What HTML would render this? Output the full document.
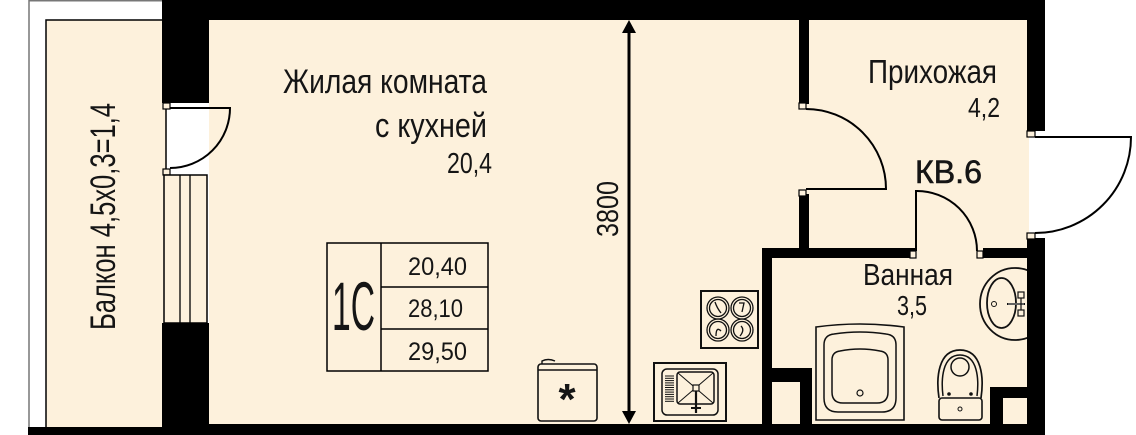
<!DOCTYPE html>
<html><head><meta charset="utf-8">
<style>
html,body{margin:0;padding:0;background:#fff;}
svg{display:block;}
text{font-family:"Liberation Sans","DejaVu Sans",sans-serif;fill:#151515;}
</style></head>
<body>
<svg width="1136" height="435" viewBox="0 0 1136 435" xmlns="http://www.w3.org/2000/svg">
<defs>
<clipPath id="inside"><rect x="209" y="20" width="818" height="405"/></clipPath>
</defs>
<rect x="0" y="0" width="1136" height="435" fill="#fff"/>
<!-- outer gray lines -->
<line x1="29" y1="0.7" x2="170" y2="0.7" stroke="#777" stroke-width="1.5"/>
<line x1="29" y1="0" x2="29" y2="430" stroke="#777" stroke-width="1.5"/>
<!-- balcony -->
<rect x="46" y="20" width="120" height="408" fill="#fdf1dc" stroke="#000" stroke-width="1.5"/>
<!-- main cream -->
<rect x="209" y="20" width="820" height="405" fill="#fdf1dc"/>

<!-- bathroom sink (under wall) -->
<g clip-path="url(#inside)">
<ellipse cx="1015" cy="304" rx="35" ry="36" fill="none" stroke="#111" stroke-width="1.8"/>
</g>
<ellipse cx="1001.5" cy="303" rx="14.5" ry="25" fill="none" stroke="#111" stroke-width="1.8"/>
<circle cx="994" cy="304" r="2.5" fill="none" stroke="#111" stroke-width="1"/>
<line x1="1007" y1="304" x2="1025" y2="304" stroke="#111" stroke-width="2"/>
<line x1="1008" y1="304" x2="1024" y2="304" stroke="#ddd" stroke-width="0.8"/>
<rect x="1018" y="292" width="6" height="6" fill="#fdf1dc" stroke="#111" stroke-width="1.2"/>
<rect x="1018" y="310" width="6" height="6" fill="#fdf1dc" stroke="#111" stroke-width="1.2"/>
<line x1="1021" y1="298" x2="1021" y2="310" stroke="#111" stroke-width="1.2"/>

<!-- walls -->
<g fill="#000">
<rect x="162" y="0" width="883" height="20"/>
<rect x="162" y="0" width="47" height="103"/>
<rect x="162" y="323" width="47" height="112"/>
<rect x="28" y="427" width="140" height="8"/>
<rect x="162" y="424" width="883" height="11"/>
<rect x="1027" y="0" width="18" height="131"/>
<rect x="1027" y="238" width="18" height="197"/>
<rect x="799" y="20" width="10" height="84"/>
<rect x="799" y="194" width="10" height="64"/>
<rect x="762" y="248" width="154" height="10"/>
<rect x="983" y="248" width="44" height="10"/>
<rect x="762" y="248" width="10" height="177"/>
<rect x="762" y="368" width="50" height="14"/>
<rect x="800" y="368" width="12" height="57"/>
<rect x="990" y="387" width="37" height="11"/>
<rect x="990" y="387" width="13" height="38"/>
</g>

<!-- balcony door -->
<rect x="163" y="103" width="7" height="6" fill="#fdf1dc" stroke="#000" stroke-width="1.2"/>
<rect x="163" y="169" width="7" height="6" fill="#fdf1dc" stroke="#000" stroke-width="1.2"/>
<path d="M170,108 L230,108 A60,60 0 0 1 170,168" fill="none" stroke="#000" stroke-width="2"/>
<!-- window -->
<rect x="164" y="175" width="43" height="148" fill="#fdf1dc" stroke="#000" stroke-width="1.5"/>
<line x1="180" y1="175" x2="180" y2="323" stroke="#000" stroke-width="1.3"/>
<line x1="190" y1="175" x2="190" y2="323" stroke="#000" stroke-width="1.3"/>

<!-- hall door -->
<rect x="799" y="103" width="7" height="6" fill="#fdf1dc" stroke="#000" stroke-width="1.2"/>
<rect x="799" y="190" width="7" height="6" fill="#fdf1dc" stroke="#000" stroke-width="1.2"/>
<path d="M806,109 A80,80 0 0 1 886,189 L806,189" fill="none" stroke="#000" stroke-width="2"/>

<!-- bathroom door -->
<rect x="910" y="251" width="6" height="7" fill="#fdf1dc" stroke="#000" stroke-width="1.2"/>
<rect x="977" y="251" width="6" height="7" fill="#fdf1dc" stroke="#000" stroke-width="1.2"/>
<path d="M916,251 L916,191 A60,60 0 0 1 977,251" fill="none" stroke="#000" stroke-width="2"/>

<!-- entrance door -->
<rect x="1027" y="131" width="8" height="6" fill="#fdf1dc" stroke="#000" stroke-width="1.2"/>
<rect x="1027" y="233" width="8" height="6" fill="#fdf1dc" stroke="#000" stroke-width="1.2"/>
<path d="M1035,137 L1131,137 A96,96 0 0 1 1035,233" fill="none" stroke="#000" stroke-width="2"/>

<!-- dimension line -->
<line x1="629" y1="30" x2="629" y2="414" stroke="#000" stroke-width="3"/>
<polygon points="629,20 622,33 636,33" fill="#000"/>
<polygon points="629,424 622,411 636,411" fill="#000"/>
<text transform="translate(618,237) rotate(-90)" font-size="31" textLength="56" lengthAdjust="spacingAndGlyphs">3800</text>

<!-- table -->
<g fill="none" stroke="#000" stroke-width="1.5">
<rect x="327" y="243" width="161" height="128"/>
<line x1="381" y1="243" x2="381" y2="371"/>
<line x1="381" y1="287" x2="488" y2="287"/>
<line x1="381" y1="329" x2="488" y2="329"/>
</g>
<text x="332" y="330" font-size="69" textLength="43" lengthAdjust="spacingAndGlyphs">1С</text>
<text x="408" y="275" font-size="25" textLength="59" lengthAdjust="spacingAndGlyphs">20,40</text>
<text x="408" y="317" font-size="25" textLength="55" lengthAdjust="spacingAndGlyphs">28,10</text>
<text x="408" y="360" font-size="25" textLength="59" lengthAdjust="spacingAndGlyphs">29,50</text>

<!-- fridge -->
<rect x="538" y="364" width="59" height="57" rx="3" fill="none" stroke="#111" stroke-width="1.6"/>
<line x1="538" y1="370" x2="597" y2="370" stroke="#111" stroke-width="1.4"/>
<path d="M542,364 L542,361 Q548,358 555,361" fill="none" stroke="#111" stroke-width="1.4"/>
<text x="567" y="414" font-size="44" font-weight="bold" text-anchor="middle">*</text>

<!-- stove -->
<rect x="701" y="291" width="57" height="57" fill="none" stroke="#111" stroke-width="2"/>
<g fill="none" stroke="#111" stroke-width="1.3">
<circle cx="718" cy="308" r="11"/><circle cx="718" cy="308" r="8.5"/>
<circle cx="742" cy="308" r="11"/><circle cx="742" cy="308" r="8.5"/>
<circle cx="718" cy="330" r="11"/><circle cx="718" cy="330" r="8.5"/>
<circle cx="742" cy="330" r="11"/><circle cx="742" cy="330" r="8.5"/>
<path d="M715,302 Q717,308 721,313"/><path d="M739,303 L744,303 L742,312"/>
<path d="M716,336 Q716,326 721,331"/><path d="M741,326 Q745,330 740,336"/>
</g>

<!-- kitchen sink -->
<rect x="654" y="363" width="72" height="58" fill="none" stroke="#111" stroke-width="2"/>
<rect x="662" y="369" width="56" height="46" rx="5" fill="none" stroke="#111" stroke-width="1.5"/>
<g stroke="#111" stroke-width="1">
<line x1="665" y1="376" x2="674" y2="376"/><line x1="665" y1="378.3" x2="674" y2="378.3"/>
<line x1="665" y1="380.6" x2="674" y2="380.6"/><line x1="665" y1="382.9" x2="674" y2="382.9"/>
<line x1="665" y1="385.2" x2="674" y2="385.2"/><line x1="665" y1="387.5" x2="674" y2="387.5"/>
<line x1="665" y1="389.8" x2="674" y2="389.8"/><line x1="665" y1="392.1" x2="674" y2="392.1"/>
<line x1="665" y1="394.4" x2="674" y2="394.4"/><line x1="665" y1="396.7" x2="674" y2="396.7"/>
<line x1="665" y1="399" x2="674" y2="399"/><line x1="665" y1="401.3" x2="674" y2="401.3"/>
</g>
<rect x="677" y="372" width="37" height="32" rx="3" fill="none" stroke="#111" stroke-width="1.5"/>
<line x1="678" y1="373" x2="713" y2="403" stroke="#111" stroke-width="1"/>
<line x1="713" y1="373" x2="678" y2="403" stroke="#111" stroke-width="1"/>
<rect x="693" y="385" width="6" height="6" fill="#fdf1dc" stroke="#111" stroke-width="1.2"/>
<line x1="696" y1="391" x2="696" y2="413" stroke="#111" stroke-width="2.2"/>
<line x1="691" y1="408" x2="701" y2="408" stroke="#111" stroke-width="2"/>

<!-- bathtub -->
<path d="M816,327 Q860,321 904,327 L904,420 L816,420 Z" fill="none" stroke="#111" stroke-width="1.6"/>
<path d="M824,345 Q824,335 834,334 Q860,330 886,334 Q896,335 896,345 L896,398 Q896,412 882,412 L838,412 Q824,412 824,398 Z" fill="none" stroke="#111" stroke-width="1.5"/>
<path d="M832,360 Q832,352 840,351 Q860,347 880,351 Q888,352 888,360 L888,392 Q888,403 877,403 L843,403 Q832,403 832,392 Z" fill="none" stroke="#111" stroke-width="1.5"/>
<circle cx="860" cy="393" r="3" fill="none" stroke="#111" stroke-width="1.2"/>

<!-- toilet -->
<path d="M939,398 C936,378 938,350 960,350 C982,350 984,378 981,398" fill="none" stroke="#111" stroke-width="1.7"/>
<path d="M943,396 C941,380 942,355 960,355 C978,355 979,380 977,396" fill="none" stroke="#111" stroke-width="1.5"/>
<circle cx="960" cy="367" r="9" fill="none" stroke="#111" stroke-width="1.5"/>
<circle cx="949" cy="394" r="1.8" fill="#111"/>
<circle cx="971" cy="394" r="1.8" fill="#111"/>
<rect x="939" y="398" width="43" height="22" rx="3" fill="#fdf1dc" stroke="#111" stroke-width="1.6"/>
<circle cx="960" cy="409" r="2" fill="none" stroke="#111" stroke-width="1"/>

<!-- labels -->
<text x="283" y="93" font-size="34" textLength="204" lengthAdjust="spacingAndGlyphs">Жилая комната</text>
<text x="375" y="137" font-size="34" textLength="112" lengthAdjust="spacingAndGlyphs">с кухней</text>
<text x="447" y="173" font-size="29" textLength="45" lengthAdjust="spacingAndGlyphs">20,4</text>
<text x="868" y="83" font-size="33" textLength="129" lengthAdjust="spacingAndGlyphs">Прихожая</text>
<text x="968" y="117" font-size="28" textLength="32" lengthAdjust="spacingAndGlyphs">4,2</text>
<text x="915" y="183" font-size="32" textLength="67" lengthAdjust="spacingAndGlyphs" stroke="#151515" stroke-width="0.6">КВ.6</text>
<text x="863" y="285" font-size="31" textLength="90" lengthAdjust="spacingAndGlyphs">Ванная</text>
<text x="897" y="315" font-size="28" textLength="30" lengthAdjust="spacingAndGlyphs">3,5</text>
<text transform="translate(115,330) rotate(-90)" font-size="35" textLength="227" lengthAdjust="spacingAndGlyphs">Балкон 4,5х0,3=1,4</text>
</svg>
</body></html>
